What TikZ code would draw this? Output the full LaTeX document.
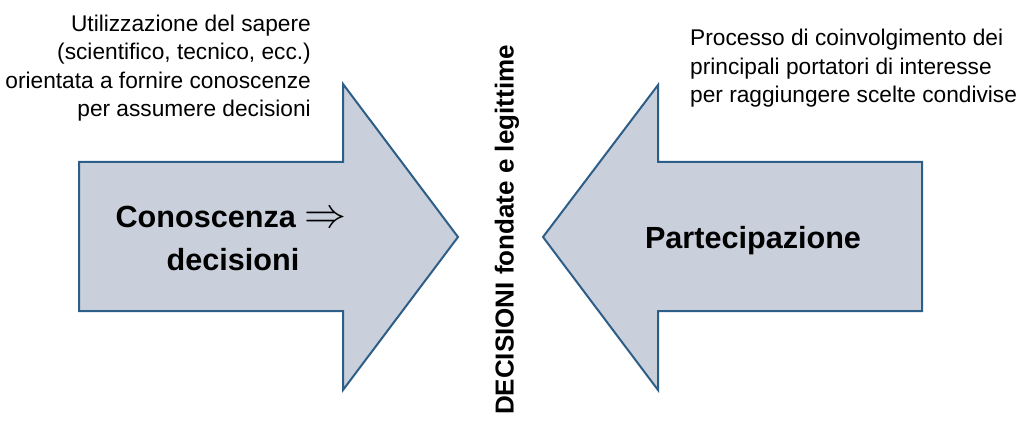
\documentclass[tikz,border=0pt]{standalone}
\usepackage{fontspec}
\setmainfont{Liberation Sans}
\definecolor{arrfill}{HTML}{C9CFDB}
\definecolor{arrline}{HTML}{2D5E88}
\begin{document}
\begin{tikzpicture}[x=1pt,y=-1pt,
  bigarrow/.style={fill=arrfill,draw=arrline,line width=2pt,line join=miter},
  smalltxt/.style={font=\fontsize{22.7}{28}\selectfont,inner sep=0pt},
  bigtxt/.style={font=\fontsize{30.6}{43}\selectfont\bfseries,inner sep=0pt},
  verttxt/.style={font=\fontsize{26}{30}\selectfont\bfseries,inner sep=0pt,rotate=90}]
\useasboundingbox (0,0) rectangle (1020,425);
% left arrow
\draw[bigarrow] (79,162) -- (343,162) -- (343,84) -- (458,237) -- (343,390) -- (343,311) -- (79,311) -- cycle;
% right arrow
\draw[bigarrow] (922,162) -- (658,162) -- (658,85) -- (543,237) -- (658,390) -- (658,311) -- (922,311) -- cycle;
% arrow labels
\node[bigtxt,anchor=base] (con1) at (231,227) {Conoscenza \resizebox{42pt}{!}{$\Rightarrow$}};
\node[bigtxt,anchor=base] (con2) at (233,270) {decisioni};
\node[bigtxt,anchor=base] (par) at (753,248) {Partecipazione};
% vertical text
\node[verttxt] (dec) at (507,230) {DECISIONI fondate e legittime};
% left description
\node[smalltxt,anchor=base east] (l1) at (311,31.5) {Utilizzazione del sapere};
\node[smalltxt,anchor=base east] (l2) at (311,60) {(scientifico, tecnico, ecc.)};
\node[smalltxt,anchor=base east] (l3) at (311,88.5) {orientata a fornire conoscenze};
\node[smalltxt,anchor=base east] (l4) at (311,117) {per assumere decisioni};
% right description
\node[smalltxt,anchor=base west] (r1) at (690,46) {Processo di coinvolgimento dei};
\node[smalltxt,anchor=base west] (r2) at (690,74.5) {principali portatori di interesse};
\node[smalltxt,anchor=base west] (r3) at (690,103) {per raggiungere scelte condivise};
\end{tikzpicture}
\end{document}
